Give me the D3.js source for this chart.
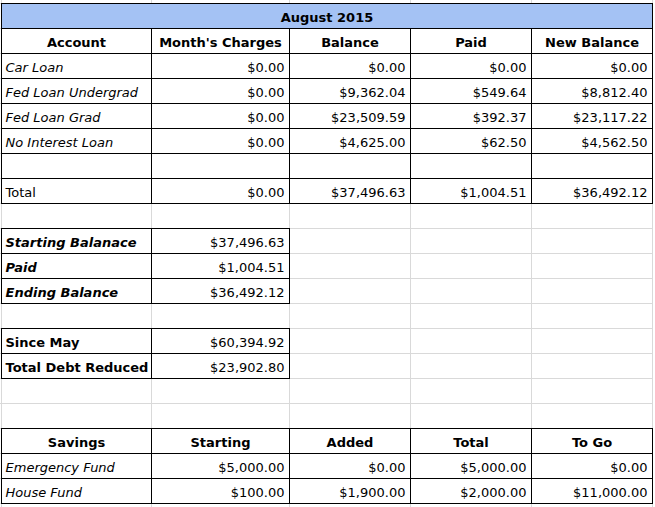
<!DOCTYPE html>
<html>
<head>
<meta charset="utf-8">
<script src="https://cdn.jsdelivr.net/npm/d3@7"></script>
<style>
  body { margin: 0; background: #fff; }
  svg { display: block; }
</style>
</head>
<body>
<script>
// values
var title = "August 2015";
var columns = ["Account", "Month's Charges", "Balance", "Paid", "New Balance"];
var accounts = ["Car Loan", "Fed Loan Undergrad", "Fed Loan Grad", "No Interest Loan"];
var monthCharges = [0, 0, 0, 0];
var balance = [0, 9362.04, 23509.59, 4625.00];
var paid = [0, 549.64, 392.37, 62.50];
var newBalance = [0, 8812.40, 23117.22, 4562.50];
var totalLabel = "Total";
var totals = [0, 37496.63, 1004.51, 36492.12];

var summaryLabels = ["Starting Balanace", "Paid", "Ending Balance"];
var summaryValues = [37496.63, 1004.51, 36492.12];

var progressLabels = ["Since May", "Total Debt Reduced"];
var progressValues = [60394.92, 23902.80];

var savingsColumns = ["Savings", "Starting", "Added", "Total", "To Go"];
var savingsFunds = ["Emergency Fund", "House Fund"];
var savingsStarting = [5000, 100];
var savingsAdded = [0, 1900];
var savingsTotal = [5000, 2000];
var savingsToGo = [0, 11000];

var W = 655, H = 507;
var money = d3.format("$,.2f");

// column edges of the sheet (pixel centres of the grid lines)
var colEdges = [1.5, 151.5, 289.5, 410.5, 531.5, 652.5];
var xLeft = d3.scaleOrdinal().domain(d3.range(6)).range(colEdges);
var y = d3.scaleLinear().domain([0, 1]).range([3.5, 28.5]);
var nRows = 21;

var svg = d3.select("body").append("svg")
    .attr("width", W)
    .attr("height", H);

// build the cells
var cells = [];
function cell(row, col, text, opt) {
    opt = opt || {};
    cells.push({
        row: row, col: col, span: opt.span || 1, text: text,
        align: opt.align || "left", bold: !!opt.bold, italic: !!opt.italic,
        fill: opt.fill || null
    });
}

cell(0, 0, title, {span: 5, align: "middle", bold: true, fill: "#a4c2f4"});
columns.forEach(function(c, i) { cell(1, i, c, {align: "middle", bold: true}); });
accounts.forEach(function(a, i) {
    var r = 2 + i;
    cell(r, 0, a, {italic: true});
    cell(r, 1, money(monthCharges[i]), {align: "end"});
    cell(r, 2, money(balance[i]), {align: "end"});
    cell(r, 3, money(paid[i]), {align: "end"});
    cell(r, 4, money(newBalance[i]), {align: "end"});
});
for (var c = 0; c < 5; c++) cell(6, c, "");
cell(7, 0, totalLabel);
totals.forEach(function(t, i) { cell(7, i + 1, money(t), {align: "end"}); });

summaryLabels.forEach(function(l, i) {
    cell(9 + i, 0, l, {bold: true, italic: true});
    cell(9 + i, 1, money(summaryValues[i]), {align: "end"});
});

progressLabels.forEach(function(l, i) {
    cell(13 + i, 0, l, {bold: true});
    cell(13 + i, 1, money(progressValues[i]), {align: "end"});
});

savingsColumns.forEach(function(c, i) { cell(17, i, c, {align: "middle", bold: true}); });
savingsFunds.forEach(function(f, i) {
    var r = 18 + i;
    cell(r, 0, f, {italic: true});
    cell(r, 1, money(savingsStarting[i]), {align: "end"});
    cell(r, 2, money(savingsAdded[i]), {align: "end"});
    cell(r, 3, money(savingsTotal[i]), {align: "end"});
    cell(r, 4, money(savingsToGo[i]), {align: "end"});
});

// light sheet grid
svg.append("g").selectAll("line.h")
    .data(d3.range(nRows))
    .enter().append("line")
    .attr("x1", 0).attr("x2", colEdges[5])
    .attr("y1", function(d) { return y(d); })
    .attr("y2", function(d) { return y(d); })
    .attr("stroke", "#d9d9d9");

svg.append("g").selectAll("line.v")
    .data(colEdges)
    .enter().append("line")
    .attr("x1", function(d) { return d; }).attr("x2", function(d) { return d; })
    .attr("y1", 0).attr("y2", H)
    .attr("stroke", "#d9d9d9");

// cell boxes
var g = svg.append("g");
g.selectAll("rect")
    .data(cells)
    .enter().append("rect")
    .attr("x", function(d) { return xLeft(d.col); })
    .attr("y", function(d) { return y(d.row); })
    .attr("width", function(d) { return xLeft(d.col + d.span) - xLeft(d.col); })
    .attr("height", y(1) - y(0))
    .attr("fill", function(d) { return d.fill || "#fff"; })
    .attr("stroke", "#000")
    .attr("stroke-width", 1);

// cell text
g.selectAll("text")
    .data(cells.filter(function(d) { return d.text !== ""; }))
    .enter().append("text")
    .attr("x", function(d) {
        var l = xLeft(d.col), r = xLeft(d.col + d.span);
        if (d.align === "middle") return (l + r) / 2;
        if (d.align === "end") return r - 5;
        return l + 4;
    })
    .attr("y", function(d) { return y(d.row) + 18.5; })
    .attr("text-anchor", function(d) { return d.align === "left" ? "start" : d.align; })
    .attr("font-family", "'DejaVu Sans', Verdana, sans-serif")
    .attr("font-size", 13)
    .attr("font-weight", function(d) { return d.bold ? "bold" : "normal"; })
    .attr("font-style", function(d) { return d.italic ? "italic" : "normal"; })
    .attr("fill", "#000")
    .text(function(d) { return d.text; });
</script>
</body>
</html>
